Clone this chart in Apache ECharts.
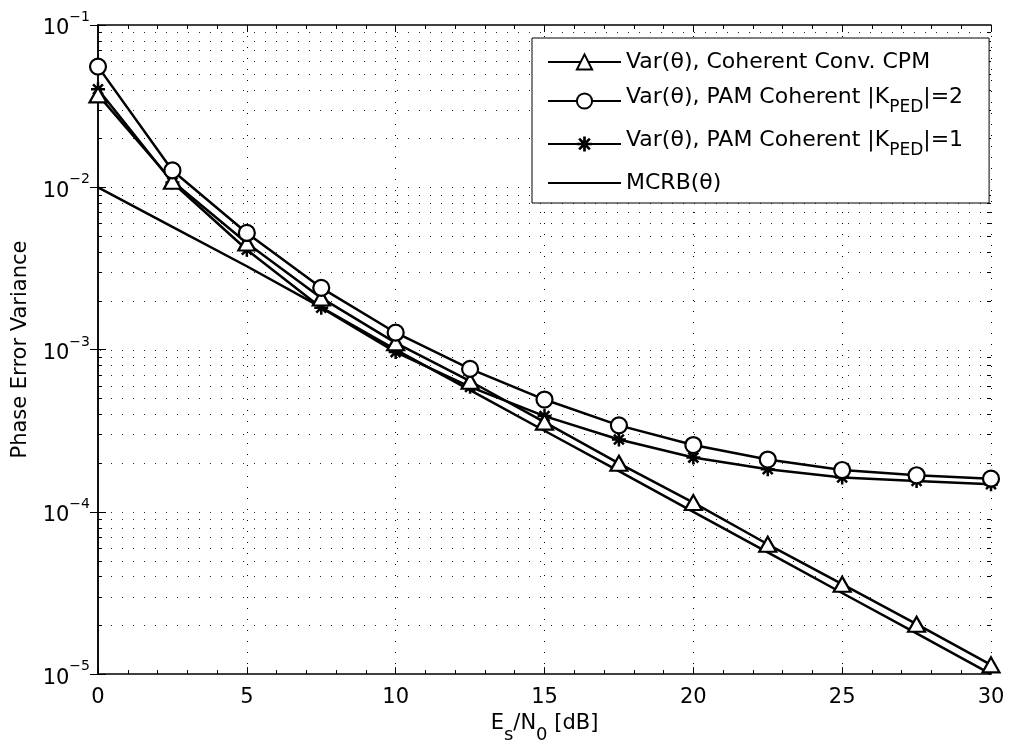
<!DOCTYPE html>
<html><head><meta charset="utf-8">
<script src="https://cdn.jsdelivr.net/npm/echarts@6/dist/echarts.min.js"></script>
<style>html,body{margin:0;padding:0;background:#fff}#c{width:1010px;height:749px}</style>
</head><body><div id="c"></div>
<script>
// ---- data ----
const snrDb = [0, 2.5, 5, 7.5, 10, 12.5, 15, 17.5, 20, 22.5, 25, 27.5, 30];
const varCpm = [0.0371, 0.0109, 0.00454, 0.00208, 0.00110, 6.38e-4, 3.57e-4, 1.99e-4, 1.14e-4, 6.31e-5, 3.58e-5, 2.03e-5, 1.14e-5];
const varPamK2 = [0.0554, 0.0127, 0.00523, 0.00240, 0.00127, 7.60e-4, 4.92e-4, 3.41e-4, 2.58e-4, 2.10e-4, 1.81e-4, 1.68e-4, 1.60e-4];
const varPamK1 = [0.0402, 0.0107, 0.00412, 0.00181, 9.65e-4, 5.89e-4, 3.89e-4, 2.79e-4, 2.16e-4, 1.83e-4, 1.63e-4, 1.55e-4, 1.48e-4];
const mcrb = [1.0e-2, 5.7e-3, 3.26e-3, 1.82e-3, 1.0e-3, 5.62e-4, 3.16e-4, 1.78e-4, 1.0e-4, 5.62e-5, 3.16e-5, 1.78e-5, 1.0e-5];
const seriesNames = ['Var(θ), Coherent Conv. CPM', 'Var(θ), PAM Coherent |K_PED|=2', 'Var(θ), PAM Coherent |K_PED|=1', 'MCRB(θ)'];
const legendRich = [
  '{n|Var(θ), Coherent Conv. CPM}',
  '{n|Var(θ), PAM Coherent |K}{sub|PED}{n||=2}',
  '{n|Var(θ), PAM Coherent |K}{sub|PED}{n||=1}',
  '{n|MCRB(θ)}'
];
const xMin = 0, xMax = 30, xStep = 5;
const yMin = 1e-5, yMax = 1e-1;
const gridDecades = [1e-5, 1e-4, 1e-3, 1e-2];
const gridMantissas = [1, 2, 3, 4, 5, 6, 7, 8, 9];
const xLabel = '{n|E}{sub|s}{n|/N}{sub|0}{n| [dB]}';
const yLabel = 'Phase Error Variance';

// ---- build ----
const FONT = '"DejaVu Sans", "Liberation Sans", Arial, sans-serif';
const gridValues = [];
gridDecades.forEach(d => gridMantissas.forEach(m => {
  const v = +(d * m).toPrecision(3);
  if (v > yMin && v < yMax) gridValues.push(v);
}));
const pair = ys => snrDb.map((x, i) => [x, ys[i]]);
const starPath = 'path://M8.2 0L11.8 0L11.8 20L8.2 20Z M0 8.2L20 8.2L20 11.8L0 11.8Z M4.2 1.66L18.34 15.8L15.8 18.34L1.66 4.2Z M18.34 4.2L4.2 18.34L1.66 15.8L15.8 1.66Z';

const chart = echarts.init(document.getElementById('c'), null, {renderer: 'canvas'});
const lineStyle = {color: '#000', width: 2.5};
const option = {
  animation: false,
  backgroundColor: '#fff',
  textStyle: {fontFamily: FONT, color: '#000'},
  grid: {left: 98, right: 19, top: 25, bottom: 73, containLabel: false},
  legend: {
    orient: 'vertical', left: 532, top: 38,
    padding: [13, 26, 9, 15], itemGap: 13,
    itemWidth: 73, itemHeight: 19,
    borderColor: '#000', borderWidth: 1, borderRadius: 0, backgroundColor: '#fff',
    data: seriesNames.map((n, i) => i === 3 ? {name: n, itemStyle: {opacity: 0}} : {name: n}),
    formatter: name => legendRich[seriesNames.indexOf(name)],
    textStyle: {
      fontFamily: FONT, color: '#000',
      rich: {
        n: {fontSize: 22, fontFamily: FONT, color: '#000', verticalAlign: 'top'},
        sub: {fontSize: 17, fontFamily: FONT, color: '#000', verticalAlign: 'top', padding: [13, 0, 0, 0]}
      }
    }
  },
  xAxis: [{
    type: 'value', min: xMin, max: xMax, interval: xStep,
    name: xLabel, nameLocation: 'middle', nameGap: 33,
    nameTextStyle: {
      rich: {
        n: {fontSize: 21, fontFamily: FONT, color: '#000', verticalAlign: 'top'},
        sub: {fontSize: 18, fontFamily: FONT, color: '#000', verticalAlign: 'top', padding: [13, 0, 0, 0]}
      }
    },
    axisLine: {lineStyle: {color: '#000', width: 1.5}},
    axisTick: {inside: true, length: 7, lineStyle: {color: '#000', width: 1}},
    minorTick: {show: true, splitNumber: 5, length: 4, lineStyle: {color: '#000', width: 1}},
    axisLabel: {fontSize: 21, fontFamily: FONT, color: '#000', margin: 13},
    splitLine: {show: true, lineStyle: {color: '#000', width: 1, type: [1, 10]}}
  }, {
    type: 'value', min: xMin, max: xMax, interval: xStep, position: 'top',
    axisLine: {show: true, lineStyle: {color: '#000', width: 1.5}},
    axisTick: {show: true, inside: true, length: 7, lineStyle: {color: '#000', width: 1}},
    minorTick: {show: true, splitNumber: 5, length: 4, lineStyle: {color: '#000', width: 1}},
    axisLabel: {show: false}, splitLine: {show: false}
  }],
  yAxis: [{
    type: 'log', logBase: 10, min: yMin, max: yMax, splitNumber: 4,
    name: yLabel, nameLocation: 'middle', nameGap: 67,
    nameTextStyle: {fontSize: 21, fontFamily: FONT, color: '#000'},
    axisLine: {show: true, lineStyle: {color: '#000', width: 1.5}},
    axisTick: {show: true, inside: true, length: 8, lineStyle: {color: '#000', width: 1}},
    axisLabel: {
      margin: 8,
      formatter: v => '{b|10}{s|−' + Math.round(-Math.log10(v)) + '}',
      rich: {
        b: {fontSize: 21, fontFamily: FONT, color: '#000', verticalAlign: 'top', padding: [8, 0, 0, 0]},
        s: {fontSize: 14, fontFamily: FONT, color: '#000', verticalAlign: 'top'}
      }
    },
    splitLine: {show: false}
  }, {
    type: 'log', logBase: 10, min: yMin, max: yMax, splitNumber: 4, position: 'right',
    axisLine: {show: true, lineStyle: {color: '#000', width: 1.5}},
    axisTick: {show: true, inside: true, length: 8, lineStyle: {color: '#000', width: 1}},
    axisLabel: {show: false}, splitLine: {show: false}
  }],
  series: [
    {
      type: 'custom', silent: true, z: 1, xAxisIndex: 0, yAxisIndex: 0,
      data: gridValues.map(v => [xMin, v]),
      encode: {x: 0, y: 1},
      renderItem: (params, api) => {
        const v = api.value(1);
        const a = api.coord([xMin, v]), b = api.coord([xMax, v]);
        const y = Math.round(a[1]) + 0.5;
        const isDecade = Math.abs(Math.log10(v) - Math.round(Math.log10(v))) < 1e-6;
        const kids = [{type: 'line', shape: {x1: a[0] + 2, y1: y, x2: b[0], y2: y}, style: {stroke: '#000', lineWidth: 1, lineDash: [1, 10], opacity: 0.85}}];
        if (!isDecade) {
          kids.push({type: 'line', shape: {x1: a[0], y1: y, x2: a[0] + 4, y2: y}, style: {stroke: '#000', lineWidth: 1}});
          kids.push({type: 'line', shape: {x1: b[0] - 4, y1: y, x2: b[0], y2: y}, style: {stroke: '#000', lineWidth: 1}});
        }
        return {type: 'group', children: kids};
      }
    },
    {
      name: seriesNames[3], type: 'line', z: 3, data: pair(mcrb),
      symbol: 'none', lineStyle: {color: '#000', width: 2.5}, itemStyle: {color: '#000'}
    },
    {
      name: seriesNames[2], type: 'line', z: 4, data: pair(varPamK1),
      symbol: starPath, symbolSize: 14, showAllSymbol: true,
      lineStyle: lineStyle, itemStyle: {color: '#000', borderWidth: 0}
    },
    {
      name: seriesNames[0], type: 'line', z: 5, data: pair(varCpm),
      symbol: 'triangle', symbolSize: [17, 15], showAllSymbol: true,
      lineStyle: lineStyle, itemStyle: {color: '#fff', borderColor: '#000', borderWidth: 2.2}
    },
    {
      name: seriesNames[1], type: 'line', z: 6, data: pair(varPamK2),
      symbol: 'circle', symbolSize: 16, showAllSymbol: true,
      lineStyle: lineStyle, itemStyle: {color: '#fff', borderColor: '#000', borderWidth: 2.2}
    }
  ]
};
chart.setOption(option);
</script>
</body></html>
